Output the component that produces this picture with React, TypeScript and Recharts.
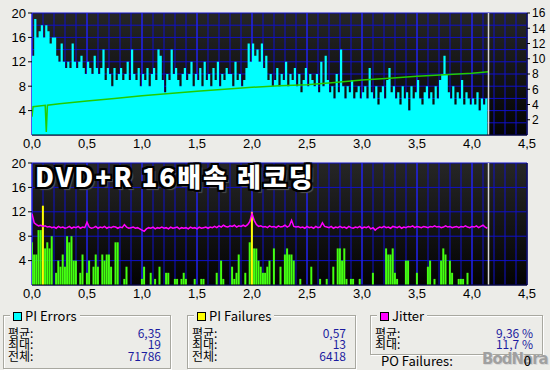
import { ComposedChart, Area, Bar, Line, XAxis, YAxis, CartesianGrid, ReferenceLine, Cell } from 'recharts';

// x axis (position on disc, GB)
const xTicks = [0, 0.5, 1, 1.5, 2, 2.5, 3, 3.5, 4, 4.5];
const minorX = [0, 0.1, 0.2, 0.3, 0.4, 0.5, 0.6, 0.7, 0.8, 0.9, 1, 1.1, 1.2, 1.3, 1.4, 1.5, 1.6, 1.7, 1.8, 1.9, 2, 2.1, 2.2, 2.3, 2.4, 2.5, 2.6, 2.7, 2.8, 2.9, 3, 3.1, 3.2, 3.3, 3.4, 3.5, 3.6, 3.7, 3.8, 3.9, 4, 4.1, 4.2, 4.3, 4.4, 4.5];
const endX = 4.15;

// PI errors, one value every 0.02
const piErrors = [
  13, 19, 16, 17, 18, 16, 18, 17, 15, 16,
  16, 13, 12, 15, 12, 11, 12, 11, 15, 12,
  11, 12, 13, 11, 10, 12, 11, 10, 13, 11,
  10, 11, 14, 9, 11, 10, 8, 11, 9, 10,
  11, 9, 10, 12, 9, 14, 10, 9, 11, 8,
  10, 9, 11, 8, 10, 11, 9, 14, 13, 9,
  7, 10, 9, 14, 10, 11, 9, 8, 10, 11,
  9, 10, 12, 8, 10, 9, 11, 8, 12, 9,
  10, 8, 11, 9, 12, 8, 10, 9, 11, 10,
  10, 8, 12, 9, 10, 8, 9, 11, 15, 12,
  15, 13, 14, 12, 15, 11, 13, 9, 10, 8,
  9, 11, 8, 10, 9, 12, 8, 10, 9, 11,
  8, 10, 7, 9, 11, 8, 10, 9, 8, 10,
  7, 12, 8, 13, 9, 7, 8, 6, 10, 7,
  14, 8, 6, 8, 7, 9, 6, 7, 8, 6,
  7, 8, 6, 11, 7, 6, 8, 5, 7, 8,
  6, 9, 11, 7, 8, 6, 7, 5, 8, 6,
  7, 4, 8, 6, 7, 9, 6, 5, 7, 8,
  6, 7, 5, 8, 6, 9, 10, 13, 10, 7,
  6, 8, 5, 7, 6, 9, 5, 7, 6, 5,
  6, 5, 7, 4, 6, 5, 6, 7,
];

// PI failures, same positions
const piFailures = [
  7, 5, 5, 9, 9, 13, 6, 7, 6, 8,
  0, 2, 4, 3, 5, 3, 8, 7, 8, 4,
  4, 0, 2, 5, 0, 2, 4, 0, 3, 5,
  3, 0, 5, 4, 5, 5, 3, 0, 7, 7,
  0, 0, 1, 3, 0, 0, 0, 0, 0, 0,
  1, 3, 0, 0, 2, 0, 1, 0, 3, 0,
  0, 2, 2, 0, 0, 1, 1, 0, 1, 2,
  1, 0, 0, 0, 1, 0, 0, 1, 1, 0,
  0, 0, 0, 0, 2, 0, 4, 1, 0, 0,
  0, 3, 1, 2, 5, 0, 0, 2, 0, 7,
  12, 6, 6, 4, 3, 2, 2, 3, 4, 0,
  6, 0, 0, 3, 0, 5, 6, 5, 5, 4,
  0, 0, 1, 0, 0, 0, 0, 3, 0, 0,
  0, 1, 0, 0, 1, 0, 0, 3, 0, 6,
  6, 4, 6, 1, 0, 1, 1, 0, 0, 1,
  0, 0, 0, 0, 0, 2, 0, 0, 0, 0,
  0, 6, 5, 5, 6, 2, 1, 0, 0, 0,
  4, 4, 0, 0, 0, 2, 0, 0, 0, 0,
  3, 4, 0, 1, 0, 0, 4, 6, 5, 0,
  4, 2, 0, 0, 1, 1, 1, 0, 2, 0,
  0, 0, 0, 0, 0, 0, 0, 0,
];

// jitter %, same positions
const jitter = [
  11.7, 10.2, 9.9, 9.7, 9.8, 9.6, 9.7, 9.5, 9.6, 9.4,
  9.5, 9.3, 9.6, 9.4, 9.5, 9.3, 9.4, 9.6, 9.3, 9.5,
  9.4, 9.6, 9.3, 9.5, 9.4, 10.3, 9.5, 9.3, 9.4, 9.6,
  9.3, 9.5, 9.4, 9.6, 9.3, 9.5, 9.4, 9.6, 9.5, 9.3,
  9.5, 9.4, 9.9, 9.5, 9.3, 9.4, 9.5, 9.3, 9.4, 9.2,
  9.0, 8.8, 9.2, 9.4, 9.3, 9.5, 9.2, 9.4, 9.3, 9.5,
  9.3, 9.4, 9.2, 9.5, 9.3, 9.4, 9.5, 9.2, 9.4, 9.3,
  9.4, 9.2, 9.5, 9.3, 9.4, 9.2, 9.5, 9.3, 9.4, 9.5,
  9.3, 9.5, 9.4, 9.6, 9.4, 9.7, 9.5, 9.8, 9.6, 9.5,
  9.7, 9.6, 9.8, 9.5, 9.7, 9.6, 9.8, 9.6, 9.9, 10.4,
  11.7, 10.6, 9.9, 9.6, 9.7, 9.5, 9.6, 9.4, 9.7, 9.5,
  9.6, 9.4, 9.7, 9.5, 9.6, 9.8, 9.5, 9.7, 10.6, 9.6,
  9.5, 9.6, 9.4, 9.5, 9.3, 9.6, 9.4, 9.5, 9.3, 9.6,
  9.4, 9.5, 10.2, 9.6, 9.5, 9.4, 9.6, 9.3, 9.5, 9.4,
  9.6, 9.4, 9.5, 9.3, 9.6, 9.4, 9.3, 9.5, 9.4, 9.6,
  9.3, 9.5, 9.4, 9.6, 9.2, 9.4, 9.0, 9.3, 9.5, 9.4,
  9.6, 9.4, 9.5, 9.3, 9.6, 9.5, 9.4, 9.6, 9.3, 9.5,
  9.4, 9.6, 9.5, 9.7, 9.4, 9.6, 9.5, 9.4, 9.6, 9.5,
  9.4, 9.6, 9.5, 9.7, 9.5, 9.6, 9.4, 9.5, 9.7, 9.5,
  9.6, 9.4, 9.5, 9.6, 9.4, 9.6, 9.5, 9.7, 9.5, 9.4,
  9.6, 9.5, 9.7, 9.4, 9.6, 9.8, 9.5, 9.3,
];

// read speed (X), right axis of top chart
const speedX = [0, 0.01, 0.12, 0.13, 0.14, 0.25, 0.5, 0.75, 1.0, 1.25, 1.5, 1.75, 2.0, 2.25, 2.5, 2.75, 3.0, 3.25, 3.5, 3.75, 4.0, 4.15];
const speedV = [2.4, 3.7, 3.9, 0.4, 3.9, 4.1, 4.45, 4.8, 5.15, 5.45, 5.75, 6.0, 6.25, 6.45, 6.6, 6.9, 7.2, 7.45, 7.7, 7.9, 8.1, 8.3];

const rows = piErrors.map((v, i) => ({
  x: Math.round(i * 2) / 100,
  pie: v,
  pif: piFailures[i],
  jit: jitter[i],
}));
const speed = speedX.map((x, i) => ({ x, speed: speedV[i] }));

const tickFont = { fontSize: 13, fontFamily: 'Liberation Sans, Arial, sans-serif', fill: '#000' };
const rightFont = { ...tickFont, fontSize: 12 };
const fmtX = (v: number) => v.toFixed(1).replace('.', ',');

const Backdrop = ({ id }: { id: string }) => (
  <defs>
    <linearGradient id={id} x1="0" y1="0" x2="0" y2="1">
      <stop offset="0%" stopColor="#262626" />
      <stop offset="100%" stopColor="#030303" />
    </linearGradient>
  </defs>
);

const chartProps = {
  width: 550,
  height: 152,
  margin: { top: 13, right: 0, bottom: 2, left: 2 },
};

const xAxis = (
  <XAxis
    dataKey="x"
    type="number"
    domain={[0, 4.5]}
    ticks={xTicks}
    interval={0}
    tickFormatter={fmtX}
    tick={tickFont}
    tickLine={false}
    tickSize={2}
    axisLine={{ stroke: '#000' }}
    height={15}
    allowDataOverflow
  />
);

const TopChart = () => (
  <ComposedChart {...chartProps} data={rows}>
    <Backdrop id="bgTop" />
    <CartesianGrid
      fill="url(#bgTop)"
      stroke="#1010c8"
      verticalValues={minorX}
      horizontalValues={[0, 2, 4, 6, 8, 10, 12, 14, 16, 18, 20]}
    />
    <CartesianGrid stroke="#2a2aff" horizontal={false} verticalValues={xTicks} />
    {xAxis}
    <YAxis domain={[0, 20]} ticks={[4, 8, 12, 16, 20]} interval={0} tick={tickFont} tickSize={4} tickLine={{ stroke: '#000' }} axisLine={false} width={30} />
    <YAxis yAxisId="r" orientation="right" domain={[0, 16]} ticks={[2, 4, 6, 8, 10, 12, 14, 16]} interval={0} tick={rightFont} tickSize={3} tickLine={{ stroke: '#000' }} axisLine={{ stroke: '#000' }} width={23} />
    <Area type="stepAfter" dataKey="pie" fill="#00ffff" fillOpacity={1} stroke="none" isAnimationActive={false} />
    <Line yAxisId="r" data={speed} dataKey="speed" type="linear" stroke="#22cc00" strokeWidth={1.5} dot={false} isAnimationActive={false} />
    <ReferenceLine x={endX} stroke="#d8d8d8" strokeWidth={1.5} />
  </ComposedChart>
);

const BottomChart = () => (
  <ComposedChart {...chartProps} data={rows} barCategoryGap={0}>
    <Backdrop id="bgBot" />
    <CartesianGrid
      fill="url(#bgBot)"
      stroke="#1010c8"
      verticalValues={minorX}
      horizontalValues={[0, 4, 8, 12, 16, 20]}
    />
    <CartesianGrid stroke="#2a2aff" horizontal={false} verticalValues={xTicks} />
    {xAxis}
    <YAxis domain={[0, 20]} ticks={[4, 8, 12, 16, 20]} interval={0} tick={tickFont} tickSize={4} tickLine={{ stroke: '#000' }} axisLine={false} width={30} />
    <YAxis yAxisId="r" orientation="right" domain={[0, 20]} ticks={[4, 8, 12, 16, 20]} interval={0} tick={tickFont} tickSize={3} tickLine={{ stroke: '#000' }} axisLine={{ stroke: '#000' }} width={23} />
    <Bar dataKey="pif" barSize={2} fill="#44ff11" isAnimationActive={false}>
      {rows.map((r, i) => (
        <Cell key={i} fill={r.pif >= 12 ? '#ffff00' : '#44ff11'} />
      ))}
    </Bar>
    <Line dataKey="jit" type="linear" stroke="#ff00ff" strokeWidth={1.5} dot={false} isAnimationActive={false} />
    <ReferenceLine x={endX} stroke="#d8d8d8" strokeWidth={1.5} />
  </ComposedChart>
);

const panelFont = { fontFamily: '"Noto Sans CJK KR", "Liberation Sans", sans-serif', fontSize: 12, lineHeight: '11px' };

const GroupBox = ({ left, top, width, height, color, title, labels, values }) => (
  <div
    style={{
      position: 'absolute', left, top, width, height,
      border: '1px solid #a8a8a0', boxShadow: '1px 1px 0 #fff, inset 1px 1px 0 #fff',
      ...panelFont,
    }}
  >
    <div style={{ position: 'absolute', left: 6, top: -7, background: '#ecece8', padding: '0 3px', lineHeight: '13px', fontSize: 13, whiteSpace: 'nowrap' }}>
      <span style={{ display: 'inline-block', width: 7, height: 7, background: color, border: '1px solid #000', marginRight: 3 }} />
      {title}
    </div>
    {labels.map((l, i) => (
      <div key={l} style={{ position: 'absolute', left: 4, top: 10.5 + i * 11.7, right: 9, height: 11 }}>
        <span>{l}</span>
        <span style={{ position: 'absolute', right: 0, top: 0, color: '#1c1ca0' }}>{values[i]}</span>
      </div>
    ))}
  </div>
);

export default function App() {
  return (
    <div style={{ position: 'absolute', left: 0, top: 0, width: 550, height: 370, background: '#ecece8', overflow: 'hidden' }}>
      <div style={{ position: 'absolute', left: 0, top: 0 }}>
        <TopChart />
      </div>
      <div style={{ position: 'absolute', left: 0, top: 150 }}>
        <BottomChart />
      </div>
      <div
        style={{
          position: 'absolute', left: 35, top: 161, fontSize: 26, lineHeight: '30px', fontWeight: 900,
          fontFamily: '"Noto Sans CJK KR", sans-serif', color: '#fff', letterSpacing: 2, whiteSpace: 'nowrap',
          textShadow: '-2px -2px 0 #000, 2px -2px 0 #000, -2px 2px 0 #000, 2px 2px 0 #000, 0 2px 0 #000, 2px 0 0 #000, 0 -2px 0 #000, -2px 0 0 #000, 3px 3px 1px #555',
        }}
      >
        DVD+R 16배속 레코딩
      </div>
      <GroupBox left={3} top={315} width={166} height={52} color="#00ffff" title="PI Errors" labels={['평균:', '최대:', '전체:']} values={['6,35', '19', '71786']} />
      <GroupBox left={187} top={315} width={167} height={52} color="#ffff00" title="PI Failures" labels={['평균:', '최대:', '전체:']} values={['0,57', '13', '6418']} />
      <GroupBox left={370} top={315} width={171} height={38} color="#ff00ff" title="Jitter" labels={['평균:', '최대:']} values={['9,36 %', '11,7 %']} />
      <div style={{ position: 'absolute', left: 381, top: 354, ...panelFont, fontSize: 13, lineHeight: '13px' }}>PO Failures:</div>
      <div
        style={{
          position: 'absolute', left: 482, top: 351, fontSize: 15, lineHeight: '16px', fontWeight: 900, color: '#a0a0a0',
          fontFamily: '"DejaVu Sans", sans-serif', letterSpacing: -1, textShadow: '1px 1px 0 #d8d8d8',
        }}
      >
        BodNara
      </div>
      <div style={{ position: 'absolute', left: 521, top: 354, width: 10, textAlign: 'right', ...panelFont, fontSize: 13, lineHeight: '13px' }}>0</div>
    </div>
  );
}
